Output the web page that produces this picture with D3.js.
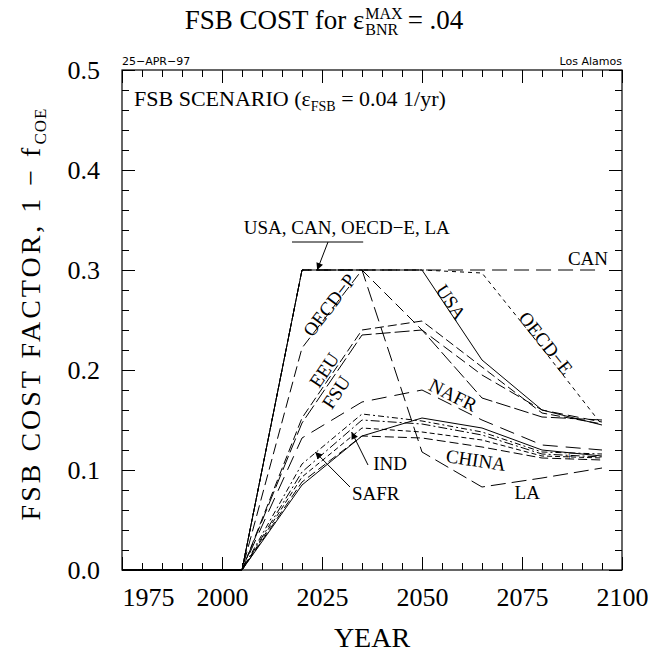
<!DOCTYPE html>
<html><head><meta charset="utf-8">
<script src="https://cdn.jsdelivr.net/npm/d3@7"></script>
<style>body{margin:0;background:#fff} svg{display:block}</style>
</head><body><svg id="c" width="648" height="655"></svg>
<script>
// ---------------- data ----------------
const years = [1975, 1990, 2005, 2020, 2035, 2050, 2065, 2080, 2095];
const usa   = [0, 0, 0, 0.300, 0.300, 0.300, 0.210, 0.160, 0.145];
const can   = [0, 0, 0, 0.300, 0.300, 0.300, 0.300, 0.300, 0.300];
const oecdE = [0, 0, 0, 0.300, 0.300, 0.300, 0.297, 0.222, 0.145];
const la    = [0, 0, 0, 0.300, 0.300, 0.118, 0.083, 0.092, 0.102];
const oecdP = [0, 0, 0, 0.222, 0.300, 0.240, 0.195, 0.160, 0.148];
const eeu   = [0, 0, 0, 0.152, 0.240, 0.249, 0.203, 0.157, 0.146];
const fsu   = [0, 0, 0, 0.147, 0.235, 0.240, 0.172, 0.153, 0.150];
const nafr  = [0, 0, 0, 0.132, 0.168, 0.180, 0.150, 0.125, 0.120];
const china = [0, 0, 0, 0.088, 0.134, 0.132, 0.123, 0.112, 0.110];
const ind   = [0, 0, 0, 0.098, 0.150, 0.146, 0.135, 0.116, 0.113];
const safr  = [0, 0, 0, 0.106, 0.156, 0.149, 0.138, 0.118, 0.116];
const meme  = [0, 0, 0, 0.085, 0.134, 0.152, 0.142, 0.120, 0.114];
const sea   = [0, 0, 0, 0.093, 0.142, 0.138, 0.130, 0.114, 0.112];

const seriesNames = ["USA","CAN","OECD-E","LA","OECD-P","EEU","FSU","NAFR","CHINA+","IND","SAFR","MEME","SEA"];
const seriesValues = [usa, can, oecdE, la, oecdP, eeu, fsu, nafr, china, ind, safr, meme, sea];

const xMajorTicks = [1975, 2000, 2025, 2050, 2075, 2100];
const xTickLabels = ["1975", "2000", "2025", "2050", "2075", "2100"];
const yMajorTicks = [0, 0.1, 0.2, 0.3, 0.4, 0.5];
const yTickLabels = ["0.0", "0.1", "0.2", "0.3", "0.4", "0.5"];

// ---------------- styles ----------------
const dashStyle = {
  "USA": null, "CAN": "15,7", "OECD-E": "4,4", "LA": "15,6", "OECD-P": "11,5",
  "EEU": "9,4", "FSU": "15,4", "NAFR": "15,8", "CHINA+": "9,4",
  "IND": "9,3,2,3", "SAFR": "6,3,2,3", "MEME": null, "SEA": "5,3"
};
const SERIF = "'Liberation Serif', 'Times New Roman', serif";
const SANS = "'DejaVu Sans', 'Liberation Sans', sans-serif";

const svg = d3.select("#c");
const W = 648, H = 655;
const L = 122, R = 622, T = 70, B = 570;

const x = d3.scaleLinear().domain([1975, 2100]).range([L, R]);
const y = d3.scaleLinear().domain([0, 0.5]).range([B, T]);

svg.append("rect").attr("width", W).attr("height", H).attr("fill", "#fff");

const defs = svg.append("defs");
defs.append("marker").attr("id", "ah").attr("viewBox", "0 0 10 10")
  .attr("refX", 10).attr("refY", 5).attr("markerWidth", 12).attr("markerHeight", 7)
  .attr("markerUnits", "userSpaceOnUse").attr("orient", "auto")
  .append("path").attr("d", "M0,0 L10,5 L0,10 Z").attr("fill", "#000");

// ---------------- axes ----------------
const xMinor = d3.range(1980, 2100, 5).filter(v => v % 25 !== 0);
const yMinor = d3.range(0.02, 0.5, 0.02).filter(v => Math.abs(v * 10 - Math.round(v * 10)) > 1e-6);

function styleAxis(g) {
  g.select(".domain").remove();
  g.selectAll(".tick line").attr("stroke", "#000").attr("stroke-width", 1);
  g.attr("font-family", SERIF).attr("font-size", 26);
  g.selectAll(".tick text").attr("fill", "#000");
}
const tickMap = new Map(xMajorTicks.map((t, i) => [t, xTickLabels[i]]));
const ytickMap = new Map(yMajorTicks.map((t, i) => [t.toFixed(1), yTickLabels[i]]));

const gxb = svg.append("g").attr("transform", `translate(0,${B})`)
  .call(d3.axisBottom(x).tickValues(xMajorTicks).tickSize(-13).tickPadding(18)
    .tickFormat(d => tickMap.get(d)));
styleAxis(gxb);
gxb.selectAll(".tick text").filter(d => d === 1975).attr("text-anchor", "start").attr("x", 0);
svg.append("g").attr("transform", `translate(0,${B})`)
  .call(d3.axisBottom(x).tickValues(xMinor).tickSize(-7).tickFormat("")).call(styleAxis);
svg.append("g").attr("transform", `translate(0,${T})`)
  .call(d3.axisTop(x).tickValues(xMajorTicks).tickSize(-13).tickFormat("")).call(styleAxis);
svg.append("g").attr("transform", `translate(0,${T})`)
  .call(d3.axisTop(x).tickValues(xMinor).tickSize(-7).tickFormat("")).call(styleAxis);

const gyl = svg.append("g").attr("transform", `translate(${L},0)`)
  .call(d3.axisLeft(y).tickValues(yMajorTicks).tickSize(-13).tickPadding(22)
    .tickFormat(d => ytickMap.get(d.toFixed(1))));
styleAxis(gyl);
svg.append("g").attr("transform", `translate(${L},0)`)
  .call(d3.axisLeft(y).tickValues(yMinor).tickSize(-7).tickFormat("")).call(styleAxis);
svg.append("g").attr("transform", `translate(${R},0)`)
  .call(d3.axisRight(y).tickValues(yMajorTicks).tickSize(-13).tickFormat("")).call(styleAxis);
svg.append("g").attr("transform", `translate(${R},0)`)
  .call(d3.axisRight(y).tickValues(yMinor).tickSize(-7).tickFormat("")).call(styleAxis);

svg.append("rect").attr("x", L).attr("y", T).attr("width", R - L).attr("height", B - T)
  .attr("fill", "none").attr("stroke", "#000").attr("stroke-width", 1.2);

// ---------------- lines ----------------
const line = d3.line().x((d, i) => x(years[i])).y(d => y(d));
const gl = svg.append("g");
seriesNames.forEach((name, k) => {
  gl.append("path").datum(seriesValues[k]).attr("d", line)
    .attr("fill", "none").attr("stroke", "#000").attr("stroke-width", 1)
    .attr("stroke-dasharray", dashStyle[name]);
});

// ---------------- annotations ----------------
const ga = svg.append("g").attr("font-family", SERIF).attr("fill", "#000");
function segAngle(vals, y1, y2) {
  const i1 = years.indexOf(y1), i2 = years.indexOf(y2);
  return Math.atan2(y(vals[i2]) - y(vals[i1]), x(y2) - x(y1)) * 180 / Math.PI;
}
const rotLabels = [
  {t: "USA",    yr: 2057.3, v: 0.268, vals: usa,   s: [2050, 2065]},
  {t: "OECD−E", yr: 2081.0, v: 0.227, vals: oecdE, s: [2065, 2095]},
  {t: "OECD−P", yr: 2026.8, v: 0.265, vals: oecdP, s: [2020, 2035]},
  {t: "EEU",    yr: 2025.5, v: 0.200, vals: eeu,   s: [2020, 2035]},
  {t: "FSU",    yr: 2028.5, v: 0.178, vals: fsu,   s: [2020, 2035]},
  {t: "NAFR",   yr: 2057.8, v: 0.175, vals: nafr,  s: [2050, 2065]},
  {t: "CHINA",  yr: 2063.5, v: 0.110, vals: china, s: [2050, 2065]}
];
rotLabels.forEach(d => {
  const a = segAngle(d.vals, d.s[0], d.s[1]);
  ga.append("text").attr("transform", `translate(${x(d.yr)},${y(d.v)}) rotate(${a})`)
    .attr("text-anchor", "middle").attr("dy", "0.35em").attr("font-size", 19).text(d.t);
});
ga.append("text").attr("x", x(2086.8)).attr("y", y(0.109)).attr("text-anchor", "middle")
  .attr("font-size", 13).text("+");
ga.append("text").attr("x", x(2096.5)).attr("y", y(0.305)).attr("text-anchor", "end")
  .attr("font-size", 19).text("CAN");
ga.append("text").attr("x", x(2076.3)).attr("y", y(0.071)).attr("text-anchor", "middle")
  .attr("font-size", 19).text("LA");
ga.append("text").attr("x", x(2031.2)).attr("y", y(0.336)).attr("text-anchor", "middle")
  .attr("font-size", 19).text("USA, CAN, OECD−E, LA");
ga.append("text").attr("x", x(2037.8)).attr("y", y(0.100)).attr("font-size", 19).text("IND");
ga.append("text").attr("x", x(2032.5)).attr("y", y(0.070)).attr("font-size", 19).text("SAFR");

// leader lines
const gLead = svg.append("g").attr("stroke", "#000").attr("stroke-width", 1).attr("fill", "none");
gLead.append("line").attr("x1", x(2017.5)).attr("x2", x(2035.3)).attr("y1", y(0.328)).attr("y2", y(0.328));
gLead.append("line").attr("x1", x(2026.5)).attr("y1", y(0.328)).attr("x2", x(2023.8)).attr("y2", y(0.300))
  .attr("marker-end", "url(#ah)");
gLead.append("line").attr("x1", x(2036.5)).attr("y1", y(0.105)).attr("x2", x(2032.4)).attr("y2", y(0.138))
  .attr("marker-end", "url(#ah)");
gLead.append("line").attr("x1", x(2032.0)).attr("y1", y(0.083)).attr("x2", x(2023.3)).attr("y2", y(0.118))
  .attr("marker-end", "url(#ah)");

// ---------------- titles ----------------
const tg = svg.append("g").attr("font-family", SERIF).attr("fill", "#000");
const t1 = tg.append("text").attr("x", 0).attr("y", 0).attr("font-size", 27).text("FSB COST for ε");
const w1 = t1.node().getComputedTextLength();
const sup = tg.append("text").attr("x", w1 + 1).attr("y", -10).attr("font-size", 16).text("MAX");
const sub = tg.append("text").attr("x", w1 + 1).attr("y", 6).attr("font-size", 16).text("BNR");
const ws = Math.max(sup.node().getComputedTextLength(), sub.node().getComputedTextLength());
const t2 = tg.append("text").attr("x", w1 + ws + 6).attr("y", 0).attr("font-size", 27).text("=  .04");
const wt = w1 + ws + 6 + t2.node().getComputedTextLength();
tg.attr("transform", `translate(${W / 2 - wt / 2},29)`);

svg.append("text").attr("x", L).attr("y", 65).attr("font-family", SANS).attr("font-size", 11)
  .text("25−APR−97");
svg.append("text").attr("x", R).attr("y", 65).attr("text-anchor", "end").attr("font-family", SANS)
  .attr("font-size", 11).text("Los Alamos");

const sc = svg.append("text").attr("x", 134).attr("y", 106).attr("font-family", SERIF).attr("font-size", 22);
sc.append("tspan").text("FSB SCENARIO (ε");
sc.append("tspan").attr("dy", 5).attr("font-size", 14).text("FSB");
sc.append("tspan").attr("dy", -5).text(" = 0.04 1/yr)");

const yl = svg.append("text").attr("transform", `translate(40,${(T + B) / 2 - 6}) rotate(-90)`)
  .attr("text-anchor", "middle").attr("font-family", SERIF).attr("font-size", 28)
  .attr("letter-spacing", 3);
yl.append("tspan").text("FSB COST FACTOR, 1 − f");
yl.append("tspan").attr("dy", 6).attr("font-size", 17).attr("letter-spacing", 1).text("COE");

svg.append("text").attr("x", (L + R) / 2).attr("y", 647).attr("text-anchor", "middle")
  .attr("font-family", SERIF).attr("font-size", 28).text("YEAR");
</script></body></html>
